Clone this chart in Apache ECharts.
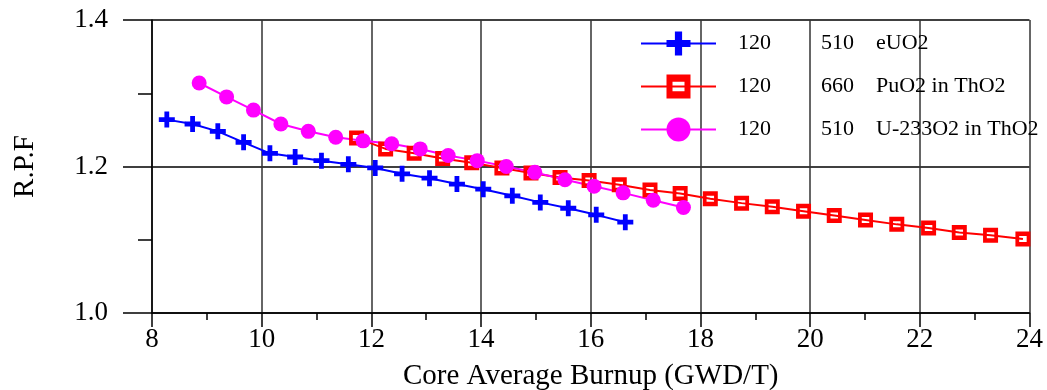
<!DOCTYPE html>
<html><head><meta charset="utf-8">
<script src="https://cdn.jsdelivr.net/npm/echarts@6/dist/echarts.min.js"></script>
<style>html,body{margin:0;padding:0;background:#fff}#c{width:1047px;height:390px}</style>
</head><body><div id="c"></div>
<script>
// --- data ---
var xTicks = [8, 10, 12, 14, 16, 18, 20, 22, 24];
var yTicks = [1.0, 1.2, 1.4];

var burnupEUO2 = [8.27, 8.74, 9.20, 9.67, 10.15, 10.61, 11.09, 11.58, 12.07, 12.56, 13.06, 13.56, 14.04, 14.57, 15.08, 15.59, 16.10, 16.63];
var rpfEUO2    = [1.264, 1.258, 1.248, 1.233, 1.218, 1.213, 1.208, 1.203, 1.198, 1.190, 1.184, 1.176, 1.169, 1.160, 1.151, 1.143, 1.134, 1.124];

var burnupPuO2 = [11.73, 12.26, 12.78, 13.30, 13.83, 14.38, 14.91, 15.44, 15.97, 16.52, 17.08, 17.63, 18.18, 18.75, 19.31, 19.88, 20.44, 21.01, 21.58, 22.16, 22.72, 23.29, 23.88];
var rpfPuO2    = [1.239, 1.224, 1.218, 1.211, 1.205, 1.198, 1.191, 1.185, 1.181, 1.175, 1.168, 1.163, 1.156, 1.150, 1.145, 1.139, 1.133, 1.127, 1.121, 1.116, 1.110, 1.106, 1.101];

var burnupU233 = [8.86, 9.36, 9.85, 10.35, 10.85, 11.35, 11.85, 12.37, 12.89, 13.40, 13.93, 14.46, 14.98, 15.53, 16.06, 16.59, 17.14, 17.69];
var rpfU233    = [1.314, 1.295, 1.277, 1.258, 1.248, 1.240, 1.235, 1.231, 1.224, 1.215, 1.208, 1.200, 1.192, 1.182, 1.173, 1.164, 1.154, 1.144];

var seriesNames = ['eUO2', 'PuO2 in ThO2', 'U-233O2 in ThO2'];
var legendCol1 = ['120', '120', '120'];
var legendCol2 = ['510', '660', '510'];

function pairs(xs, ys) { return xs.map(function (x, i) { return [x, ys[i]]; }); }

var FONT = '"Liberation Serif", "Times New Roman", serif';
var plusPath = 'path://M3.5,0H6.5V3.5H10V6.5H6.5V10H3.5V6.5H0V3.5H3.5Z';
var boxPath = 'path://M0,0H10V10H0Z M2.5,3V7H7.5V3Z';

var chart = echarts.init(document.getElementById('c'), null, {renderer: 'canvas'});
chart.setOption({
  animation: false,
  backgroundColor: '#fff',
  textStyle: {fontFamily: FONT},
  grid: {left: 152, right: 17.5, top: 20, bottom: 77, containLabel: false, outerBoundsMode: 'none'},
  legend: {
    orient: 'vertical',
    left: 640, top: 31.5, padding: 0,
    itemWidth: 75, itemHeight: 30, itemGap: 19,
    data: seriesNames,
    formatter: function (name) {
      var i = seriesNames.indexOf(name);
      return '{a|' + legendCol1[i] + '}{b|' + legendCol2[i] + '}{c|' + name + '}';
    },
    textStyle: {
      color: '#000', fontFamily: FONT, fontSize: 22,
      rich: {
        a: {width: 83, padding: [0, 0, 0, 17], fontSize: 22, fontFamily: FONT, color: '#000'},
        b: {width: 55, fontSize: 22, fontFamily: FONT, color: '#000'},
        c: {fontSize: 22, fontFamily: FONT, color: '#000'}
      }
    }
  },
  xAxis: {
    type: 'value', min: xTicks[0], max: xTicks[xTicks.length - 1], interval: 2,
    name: 'Core Average Burnup (GWD/T)', nameLocation: 'middle', nameGap: 49,
    nameTextStyle: {fontSize: 29, color: '#000', fontFamily: FONT},
    axisLine: {show: true, lineStyle: {color: '#000', width: 1.5}},
    axisTick: {show: true, length: 14, lineStyle: {color: '#000', width: 1.5}},
    minorTick: {show: true, splitNumber: 2, length: 7, lineStyle: {color: '#000', width: 1.5}},
    splitLine: {show: true, lineStyle: {color: '#333', width: 1.5}},
    axisLabel: {fontSize: 27, color: '#000', margin: 13, fontFamily: FONT}
  },
  yAxis: {
    type: 'value', min: yTicks[0], max: yTicks[yTicks.length - 1], interval: 0.2,
    name: 'R.P.F', nameLocation: 'middle', nameGap: 112, nameRotate: 90,
    nameTextStyle: {fontSize: 29, color: '#000', fontFamily: FONT},
    axisLine: {show: true, lineStyle: {color: '#000', width: 1.5}},
    axisTick: {show: true, length: 29, lineStyle: {color: '#000', width: 1.5}},
    minorTick: {show: true, splitNumber: 2, length: 14, lineStyle: {color: '#000', width: 1.5}},
    splitLine: {show: true, lineStyle: {color: '#000', width: 1.5}},
    axisLabel: {fontSize: 27, color: '#000', margin: 44, fontFamily: FONT,
      formatter: function (v) { return v.toFixed(1); }}
  },
  series: [
    {name: seriesNames[0], type: 'line', data: pairs(burnupEUO2, rpfEUO2),
      symbol: plusPath, symbolSize: 16, color: '#0000ff',
      lineStyle: {color: '#0000ff', width: 2}, itemStyle: {color: '#0000ff'}},
    {name: seriesNames[1], type: 'line', data: pairs(burnupPuO2, rpfPuO2),
      symbol: boxPath, symbolSize: 15, color: '#ff0000',
      lineStyle: {color: '#ff0000', width: 2}, itemStyle: {color: '#ff0000'}},
    {name: seriesNames[2], type: 'line', data: pairs(burnupU233, rpfU233),
      symbol: 'circle', symbolSize: 15, color: '#ff00ff',
      lineStyle: {color: '#ff00ff', width: 2}, itemStyle: {color: '#ff00ff'}}
  ]
});
</script></body></html>
